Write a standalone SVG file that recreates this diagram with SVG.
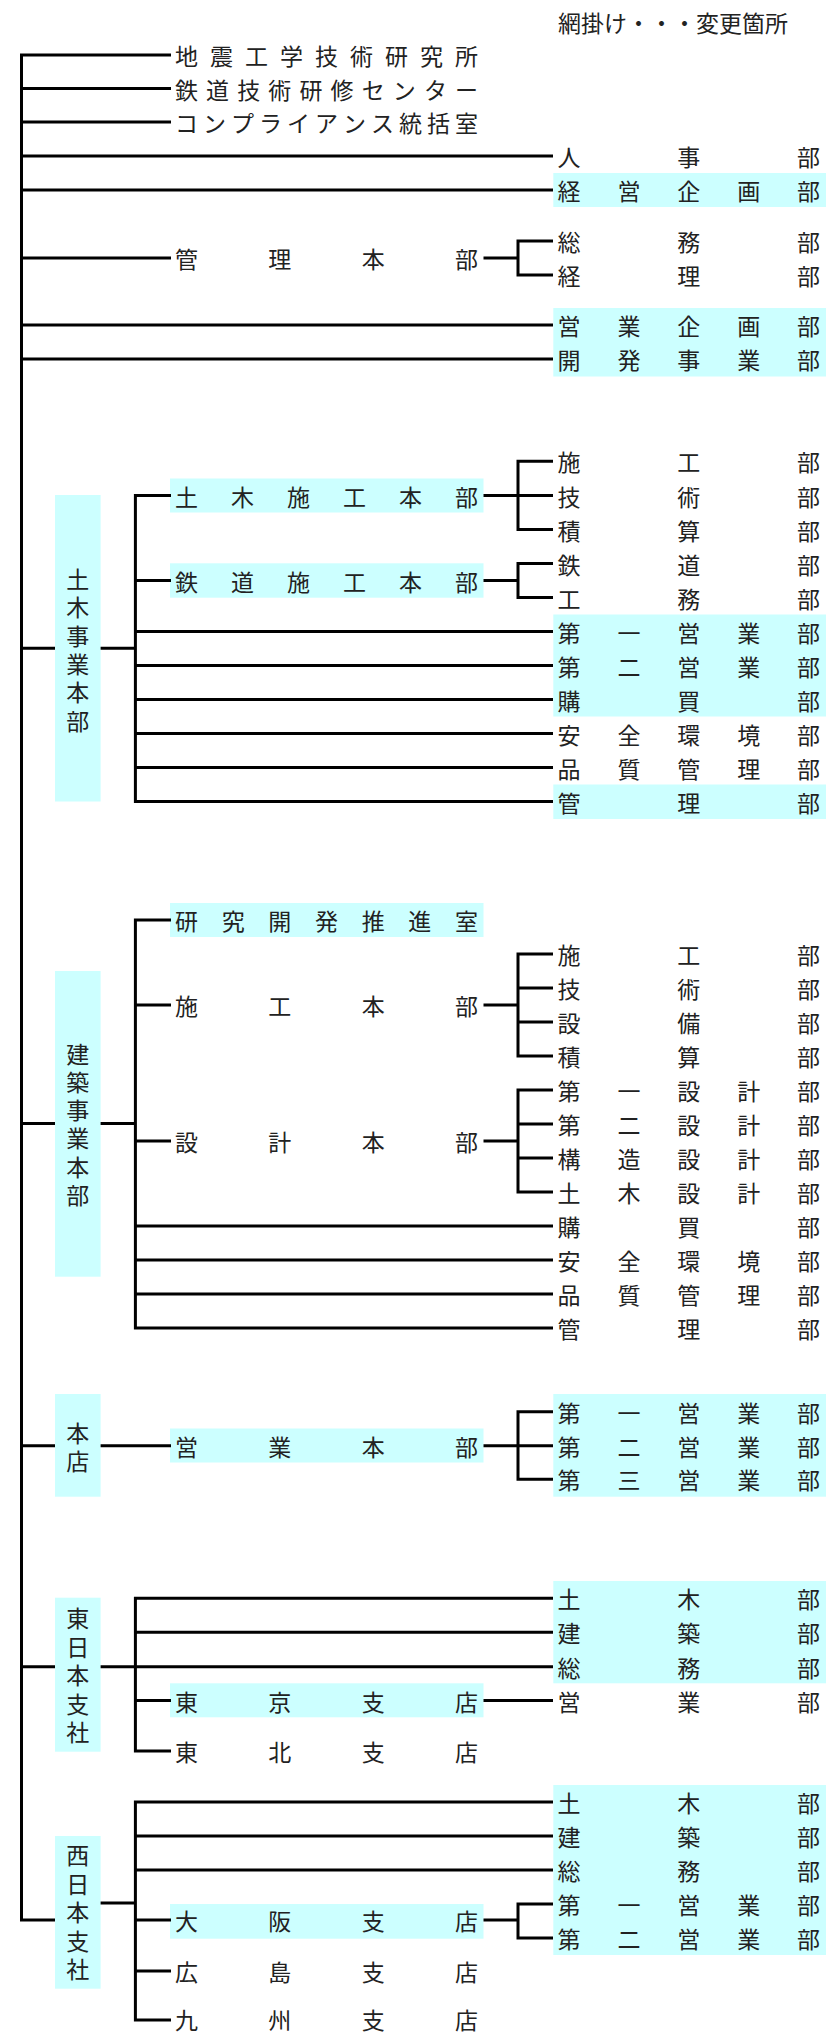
<svg xmlns="http://www.w3.org/2000/svg" width="826" height="2032" viewBox="0 0 826 2032">
<style>
.t{font-family:"Noto Sans CJK JP","Noto Sans CJK SC",sans-serif;font-size:23px;fill:#222;dominant-baseline:central}
.v{font-family:"Noto Sans CJK JP","Noto Sans CJK SC",sans-serif;font-size:23px;fill:#222;dominant-baseline:central;text-anchor:middle}
.h{fill:#ccffff}
.c{fill:none;stroke:#000;stroke-width:3;stroke-linejoin:miter}
</style>
<rect width="826" height="2032" fill="#fff"/>
<g id="legend"><text class="t" x="558" y="22">網掛け・・・変更箇所</text></g>

<g id="highlights">
<rect class="h" x="553.3" y="173" width="272.7" height="34"/>
<rect class="h" x="553.3" y="308" width="272.7" height="68.5"/>
<rect class="h" x="55" y="495" width="45.6" height="306.5"/>
<rect class="h" x="170" y="478.5" width="313.5" height="34"/>
<rect class="h" x="170" y="563.3" width="313.5" height="34.4"/>
<rect class="h" x="553.3" y="614.5" width="272.7" height="102"/>
<rect class="h" x="553.3" y="784.5" width="272.7" height="34.5"/>
<rect class="h" x="170" y="903" width="313.5" height="34"/>
<rect class="h" x="55" y="971" width="45.6" height="305.7"/>
<rect class="h" x="55" y="1394" width="45.6" height="102.7"/>
<rect class="h" x="170" y="1428.5" width="313.5" height="34"/>
<rect class="h" x="553.3" y="1394" width="272.7" height="102.7"/>
<rect class="h" x="55" y="1597.7" width="45.6" height="154"/>
<rect class="h" x="553.3" y="1581" width="272.7" height="102.3"/>
<rect class="h" x="170" y="1683.3" width="313.5" height="34"/>
<rect class="h" x="55" y="1836" width="45.6" height="152.7"/>
<rect class="h" x="553.3" y="1785" width="272.7" height="170"/>
<rect class="h" x="170" y="1904" width="313.5" height="34.7"/>
</g>

<g id="connectors" class="c">
<path class="c" d="M171 55 H21.5 V1920 H55"/>
<path class="c" d="M20 88.5 H171 M20 122 H171 M20 156 H553 M20 190 H553"/>
<path class="c" d="M20 258 H171 M483.5 258 H518 M553 241 H518 V275 H553"/>
<path class="c" d="M20 325 H553 M20 359 H553"/>
<path class="c" d="M20 648.3 H55 M100.6 648.3 H135.4"/>
<path class="c" d="M171 495.5 H135.4 V801.5 H553"/>
<path class="c" d="M135.4 580.5 H171 M135.4 631.5 H553 M135.4 665.5 H553 M135.4 699.5 H553 M135.4 733.5 H553 M135.4 767.5 H553"/>
<path class="c" d="M553 461.3 H518 V529.5 H553 M518 495.5 H553 M483.5 495.5 H518"/>
<path class="c" d="M553 563.5 H518 V597.5 H553 M483.5 580.5 H518"/>
<path class="c" d="M20 1123.5 H55 M100.6 1123.5 H135.4"/>
<path class="c" d="M171 920 H135.4 V1328 H553"/>
<path class="c" d="M135.4 1005 H171 M135.4 1141 H171 M135.4 1226 H553 M135.4 1260 H553 M135.4 1294 H553"/>
<path class="c" d="M553 954 H518 V1056 H553 M518 988 H553 M518 1022 H553 M483.5 1005 H518"/>
<path class="c" d="M553 1090 H518 V1192 H553 M518 1124 H553 M518 1158 H553 M483.5 1141 H518"/>
<path class="c" d="M20 1445.7 H55 M100.6 1445.7 H171 M483.5 1445.7 H518 M553 1411.7 H518 V1479.3 H553 M518 1445.7 H553"/>
<path class="c" d="M20 1666.7 H55 M100.6 1666.7 H553"/>
<path class="c" d="M553 1598.3 H135.4 V1751 H171 M135.4 1632.3 H553 M135.4 1700.5 H171 M483.5 1700.5 H553"/>
<path class="c" d="M100.6 1903 H135.4"/>
<path class="c" d="M553 1802 H135.4 V2020 H171 M135.4 1836 H553 M135.4 1870 H553 M135.4 1920 H171 M135.4 1971 H171"/>
<path class="c" d="M483.5 1920 H518 M553 1904 H518 V1938 H553"/>
</g>

<g id="n-jishin"><text class="t" y="55" x="175 210 245 280 315 350 385 420 455">地震工学技術研究所</text></g>
<g id="n-tetsudo-kenshu"><text class="t" y="88.5" x="175 206.1 237.2 268.3 299.4 330.6 361.7 392.8 423.9 455">鉄道技術研修センター</text></g>
<g id="n-compliance"><text class="t" y="122" x="175 203 231 259 287 315 343 371 399 427 455">コンプライアンス統括室</text></g>
<g id="n-jinji"><text class="t" y="156" x="557.5 677.3 797.1">人事部</text></g>
<g id="n-keiei"><text class="t" y="190" x="557.5 617.4 677.3 737.2 797.1">経営企画部</text></g>
<g id="n-kanri-hq"><text class="t" y="258" x="175 268.3 361.7 455">管理本部</text></g>
<g id="n-soumu"><text class="t" y="241" x="557.5 677.3 797.1">総務部</text></g>
<g id="n-keiri"><text class="t" y="275" x="557.5 677.3 797.1">経理部</text></g>
<g id="n-eigyo-kikaku"><text class="t" y="325" x="557.5 617.4 677.3 737.2 797.1">営業企画部</text></g>
<g id="n-kaihatsu"><text class="t" y="359" x="557.5 617.4 677.3 737.2 797.1">開発事業部</text></g>

<g id="n-doboku-hq"><text class="v" x="77.8 77.8 77.8 77.8 77.8 77.8" y="578 606.3 634.6 662.9 691.2 719.5">土木事業本部</text></g>
<g id="n-doboku-sekou"><text class="t" y="495.5" x="175 231 287 343 399 455">土木施工本部</text></g>
<g id="n-d-sekou"><text class="t" y="461.3" x="557.5 677.3 797.1">施工部</text></g>
<g id="n-d-gijutsu"><text class="t" y="495.5" x="557.5 677.3 797.1">技術部</text></g>
<g id="n-d-sekisan"><text class="t" y="529.5" x="557.5 677.3 797.1">積算部</text></g>
<g id="n-tetsudo-sekou"><text class="t" y="580.5" x="175 231 287 343 399 455">鉄道施工本部</text></g>
<g id="n-d-tetsudo"><text class="t" y="563.5" x="557.5 677.3 797.1">鉄道部</text></g>
<g id="n-d-koumu"><text class="t" y="597.5" x="557.5 677.3 797.1">工務部</text></g>
<g id="n-d-eigyo1"><text class="t" y="631.5" x="557.5 617.4 677.3 737.2 797.1">第一営業部</text></g>
<g id="n-d-eigyo2"><text class="t" y="665.5" x="557.5 617.4 677.3 737.2 797.1">第二営業部</text></g>
<g id="n-d-koubai"><text class="t" y="699.5" x="557.5 677.3 797.1">購買部</text></g>
<g id="n-d-anzen"><text class="t" y="733.5" x="557.5 617.4 677.3 737.2 797.1">安全環境部</text></g>
<g id="n-d-hinshitsu"><text class="t" y="767.5" x="557.5 617.4 677.3 737.2 797.1">品質管理部</text></g>
<g id="n-d-kanri"><text class="t" y="801.5" x="557.5 677.3 797.1">管理部</text></g>

<g id="n-kenchiku-hq"><text class="v" x="77.8 77.8 77.8 77.8 77.8 77.8" y="1052.5 1080.8 1109.1 1137.4 1165.7 1194">建築事業本部</text></g>
<g id="n-kenkyu"><text class="t" y="920" x="175 221.7 268.3 315 361.7 408.3 455">研究開発推進室</text></g>
<g id="n-k-sekou-hq"><text class="t" y="1005" x="175 268.3 361.7 455">施工本部</text></g>
<g id="n-k-sekou"><text class="t" y="954" x="557.5 677.3 797.1">施工部</text></g>
<g id="n-k-gijutsu"><text class="t" y="988" x="557.5 677.3 797.1">技術部</text></g>
<g id="n-k-setsubi"><text class="t" y="1022" x="557.5 677.3 797.1">設備部</text></g>
<g id="n-k-sekisan"><text class="t" y="1056" x="557.5 677.3 797.1">積算部</text></g>
<g id="n-k-sekkei-hq"><text class="t" y="1141" x="175 268.3 361.7 455">設計本部</text></g>
<g id="n-k-sekkei1"><text class="t" y="1090" x="557.5 617.4 677.3 737.2 797.1">第一設計部</text></g>
<g id="n-k-sekkei2"><text class="t" y="1124" x="557.5 617.4 677.3 737.2 797.1">第二設計部</text></g>
<g id="n-k-kouzou"><text class="t" y="1158" x="557.5 617.4 677.3 737.2 797.1">構造設計部</text></g>
<g id="n-k-doboku-sekkei"><text class="t" y="1192" x="557.5 617.4 677.3 737.2 797.1">土木設計部</text></g>
<g id="n-k-koubai"><text class="t" y="1226" x="557.5 677.3 797.1">購買部</text></g>
<g id="n-k-anzen"><text class="t" y="1260" x="557.5 617.4 677.3 737.2 797.1">安全環境部</text></g>
<g id="n-k-hinshitsu"><text class="t" y="1294" x="557.5 617.4 677.3 737.2 797.1">品質管理部</text></g>
<g id="n-k-kanri"><text class="t" y="1328" x="557.5 677.3 797.1">管理部</text></g>

<g id="n-honten"><text class="v" x="77.8 77.8" y="1431.5 1459.8">本店</text></g>
<g id="n-eigyo-hq"><text class="t" y="1445.7" x="175 268.3 361.7 455">営業本部</text></g>
<g id="n-h-eigyo1"><text class="t" y="1411.7" x="557.5 617.4 677.3 737.2 797.1">第一営業部</text></g>
<g id="n-h-eigyo2"><text class="t" y="1445.7" x="557.5 617.4 677.3 737.2 797.1">第二営業部</text></g>
<g id="n-h-eigyo3"><text class="t" y="1479.3" x="557.5 617.4 677.3 737.2 797.1">第三営業部</text></g>

<g id="n-higashi"><text class="v" x="77.8 77.8 77.8 77.8 77.8" y="1617 1645.5 1674 1702.5 1731">東日本支社</text></g>
<g id="n-e-doboku"><text class="t" y="1598.3" x="557.5 677.3 797.1">土木部</text></g>
<g id="n-e-kenchiku"><text class="t" y="1632.3" x="557.5 677.3 797.1">建築部</text></g>
<g id="n-e-soumu"><text class="t" y="1666.7" x="557.5 677.3 797.1">総務部</text></g>
<g id="n-tokyo"><text class="t" y="1700.5" x="175 268.3 361.7 455">東京支店</text></g>
<g id="n-e-eigyo"><text class="t" y="1700.5" x="557.5 677.3 797.1">営業部</text></g>
<g id="n-tohoku"><text class="t" y="1751" x="175 268.3 361.7 455">東北支店</text></g>

<g id="n-nishi"><text class="v" x="77.8 77.8 77.8 77.8 77.8" y="1854 1882.5 1911 1939.5 1968">西日本支社</text></g>
<g id="n-w-doboku"><text class="t" y="1802" x="557.5 677.3 797.1">土木部</text></g>
<g id="n-w-kenchiku"><text class="t" y="1836" x="557.5 677.3 797.1">建築部</text></g>
<g id="n-w-soumu"><text class="t" y="1870" x="557.5 677.3 797.1">総務部</text></g>
<g id="n-osaka"><text class="t" y="1920" x="175 268.3 361.7 455">大阪支店</text></g>
<g id="n-w-eigyo1"><text class="t" y="1904" x="557.5 617.4 677.3 737.2 797.1">第一営業部</text></g>
<g id="n-w-eigyo2"><text class="t" y="1938" x="557.5 617.4 677.3 737.2 797.1">第二営業部</text></g>
<g id="n-hiroshima"><text class="t" y="1971" x="175 268.3 361.7 455">広島支店</text></g>
<g id="n-kyushu"><text class="t" y="2018.5" x="175 268.3 361.7 455">九州支店</text></g>
</svg>
